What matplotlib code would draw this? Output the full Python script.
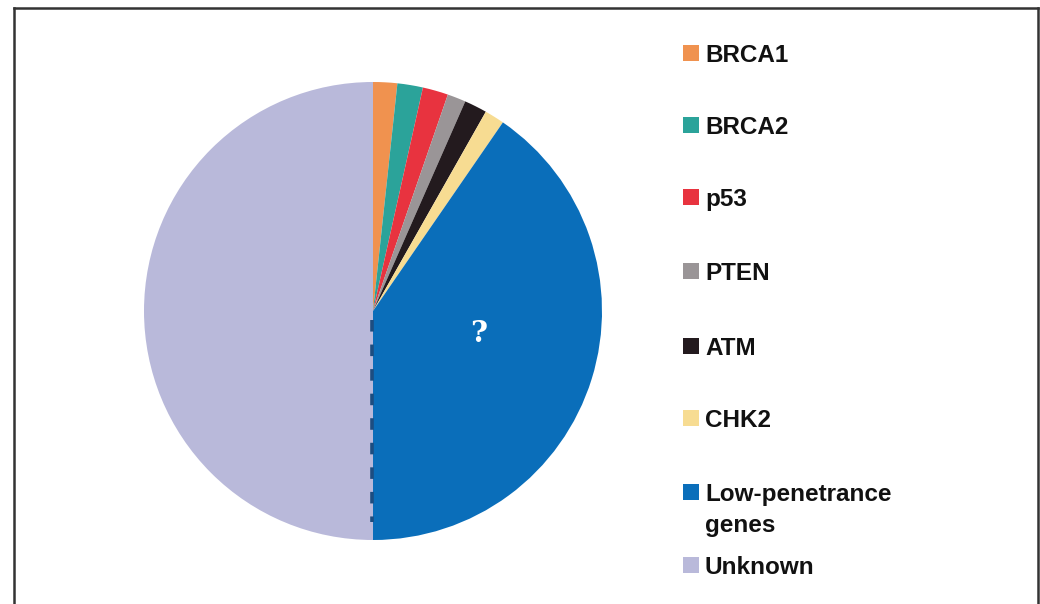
import matplotlib
matplotlib.use("Agg")
import matplotlib.pyplot as plt
from matplotlib.patches import Rectangle
from matplotlib.lines import Line2D

W, H = 1040, 604

labels = ["BRCA1", "BRCA2", "p53", "PTEN", "ATM", "CHK2",
          "Low-penetrance\ngenes", "Unknown"]
shares = [1.7, 1.8, 1.8, 1.3, 1.6, 1.4, 40.4, 50.0]
colors = ["#F0924F", "#2BA39A", "#E8333F", "#9A9597", "#231A1E", "#F7DC92",
          "#0A6EBA", "#B9B9DA"]

# legend rows (centre y of first text line, pixels)
legend_y = [53, 125, 197, 271, 346, 418, 492, 565]

fig = plt.figure(figsize=(W / 100, H / 100), dpi=100)
fig.patch.set_facecolor("white")

def px(x, y):
    return x / W, 1 - y / H

# outer frame
fc = "#333333"
fig.add_artist(Line2D([14 / W, 1038 / W], [1 - 8 / H] * 2, color=fc, lw=1.8))
fig.add_artist(Line2D([14 / W] * 2, [1 - 8 / H, 0], color=fc, lw=1.8))
fig.add_artist(Line2D([1038 / W] * 2, [1 - 8 / H, 0], color=fc, lw=1.8))

# pie
cx, cy, r = 373, 311, 229
ax = fig.add_axes([(cx - r) / W, (H - cy - r) / H, 2 * r / W, 2 * r / H])
ax.pie(shares, colors=colors, startangle=90, counterclock=False,
       radius=1, wedgeprops=dict(linewidth=0))
ax.set_xlim(-1, 1)
ax.set_ylim(-1, 1)
ax.set_aspect("equal")
ax.axis("off")
ax.plot([-0.005, -0.005], [-0.04, -0.92], color="#1D4D80", lw=2.6,
        dashes=(3.2, 3.6))
ax.text(0.46, -0.10, "?", color="white", fontsize=21, fontweight="bold",
        family="DejaVu Serif", ha="center", va="center")

# legend drawn by hand
for lab, col, y in zip(labels, colors, legend_y):
    x0, y0 = px(683, y + 8)
    fig.add_artist(Rectangle((x0, y0), 16 / W, 16 / H, transform=fig.transFigure,
                             facecolor=col, edgecolor="none"))
    for i, line in enumerate(lab.split("\n")):
        tx, ty = px(705, y + i * 31)
        fig.text(tx, ty, line, fontsize=17.5, fontweight="bold",
                 family="Liberation Sans", color="#111111", ha="left",
                 va="center_baseline")

fig.savefig("out.png", dpi=100)
